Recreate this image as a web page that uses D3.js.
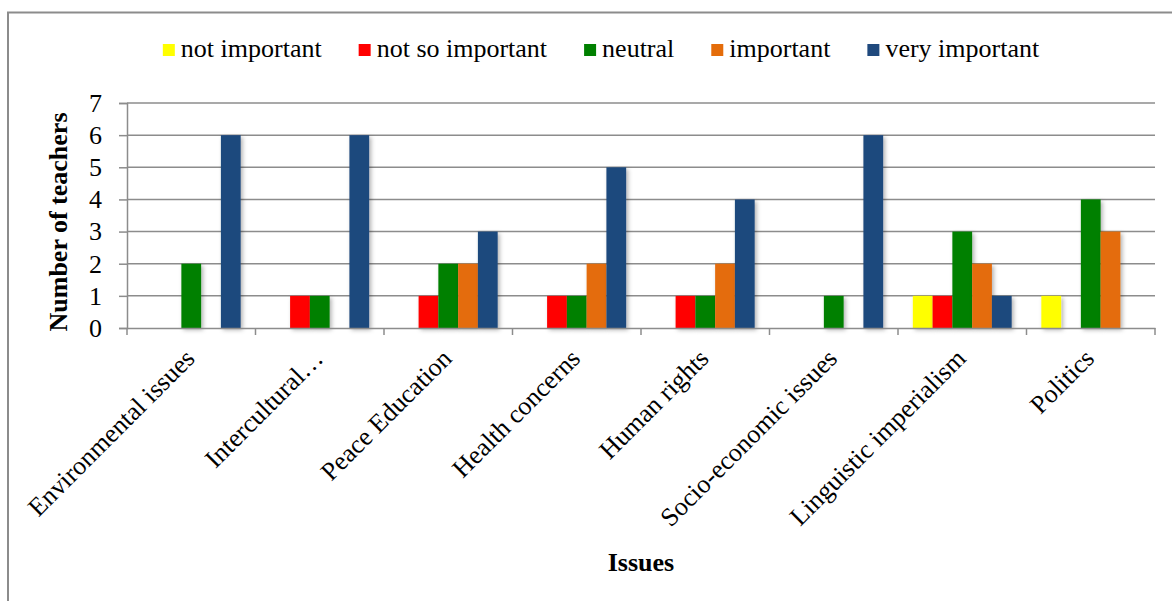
<!DOCTYPE html>
<html>
<head>
<meta charset="utf-8">
<script src="https://cdn.jsdelivr.net/npm/d3@7"></script>
<style>
  body { margin: 0; background: #fff; }
  text { font-family: "Liberation Serif", "Times New Roman", serif; fill: #000; }
</style>
</head>
<body>
<div id="chart"></div>
<script>
const categories = ["Environmental issues", "Intercultural\u2026", "Peace Education", "Health concerns",
                    "Human rights", "Socio-economic issues", "Linguistic imperialism", "Politics"]
const seriesNames = ["not important", "not so important", "neutral", "important", "very important"]
const notImportant   = [0, 0, 0, 0, 0, 0, 1, 1]
const notSoImportant = [0, 1, 1, 1, 1, 0, 1, 0]
const neutral        = [2, 1, 2, 1, 1, 1, 3, 4]
const important      = [0, 0, 2, 2, 2, 0, 2, 3]
const veryImportant  = [6, 6, 3, 5, 4, 6, 1, 0]
const yTicks = [0, 1, 2, 3, 4, 5, 6, 7]

const seriesValues = [notImportant, notSoImportant, neutral, important, veryImportant]
const colors = ["#FFFF00", "#FF0000", "#008000", "#E46C0A", "#1F497D"]

const width = 1172, height = 601
const plotLeft = 127, plotRight = 1155, plotTop = 103, plotBottom = 328

const svg = d3.select("#chart").append("svg")
              .attr("width", width)
              .attr("height", height)

// shadow like the office chart
const defs = svg.append("defs")
defs.append("filter").attr("id", "shadow")
    .attr("x", "-20%").attr("y", "-20%").attr("width", "160%").attr("height", "140%")
    .append("feDropShadow")
    .attr("dx", 2).attr("dy", 2).attr("stdDeviation", 2)
    .attr("flood-color", "#000").attr("flood-opacity", 0.3)

// outer frame
svg.append("path")
   .attr("d", `M8,${height + 5} L8,12.5 L${width + 5},12.5`)
   .attr("fill", "none")
   .attr("stroke", "#8c8c8c")
   .attr("stroke-width", 2)

const x = d3.scaleBand().domain(categories).range([plotLeft, plotRight]).padding(0)
const xs = d3.scaleBand().domain(seriesNames).range([0, x.bandwidth()]).paddingInner(0).paddingOuter(0.75)
const y = d3.scaleLinear().domain([0, 7]).range([plotBottom, plotTop])

// gridlines
svg.append("g")
   .selectAll("line")
   .data(yTicks.filter(d => d > 0))
   .enter()
   .append("line")
   .attr("x1", plotLeft).attr("x2", plotRight)
   .attr("y1", d => y(d)).attr("y2", d => y(d))
   .attr("stroke", "#8c8c8c")
   .attr("stroke-width", 1.5)

// y axis
const yAxis = svg.append("g")
   .attr("transform", `translate(${plotLeft},0)`)
   .call(d3.axisLeft(y).tickValues(yTicks).tickSize(8).tickPadding(17).tickFormat(d3.format("d")))
yAxis.select(".domain").attr("stroke", "#8c8c8c").attr("stroke-width", 1.5)
yAxis.selectAll(".tick line").attr("stroke", "#8c8c8c").attr("stroke-width", 1.5)
yAxis.selectAll(".tick text")
     .attr("font-size", 26)
     .attr("font-family", "Liberation Serif")
     .attr("fill", "#000")

// bars
const groups = svg.append("g")
   .selectAll("g")
   .data(categories)
   .enter()
   .append("g")
   .attr("transform", d => `translate(${x(d)},0)`)

groups.selectAll("rect")
   .data((d, i) => seriesNames.map((s, k) => ({ s: s, v: seriesValues[k][i], c: colors[k] })).filter(e => e.v > 0))
   .enter()
   .append("rect")
   .attr("x", d => xs(d.s))
   .attr("y", d => y(d.v))
   .attr("width", xs.bandwidth())
   .attr("height", d => plotBottom - y(d.v))
   .attr("fill", d => d.c)
   .attr("filter", "url(#shadow)")

// x axis
const xAxis = svg.append("g")
   .attr("transform", `translate(0,${plotBottom})`)
   .call(d3.axisBottom(x).tickValues([]).tickSizeOuter(0))
xAxis.select(".domain").attr("stroke", "#8c8c8c").attr("stroke-width", 1.5)
xAxis.selectAll("line.cat")
   .data(d3.range(categories.length + 1))
   .enter()
   .append("line")
   .attr("class", "cat")
   .attr("x1", i => plotLeft + i * x.step()).attr("x2", i => plotLeft + i * x.step())
   .attr("y1", 0).attr("y2", 7)
   .attr("stroke", "#8c8c8c")
   .attr("stroke-width", 1.5)

svg.append("g")
   .selectAll("text")
   .data(categories)
   .enter()
   .append("text")
   .attr("transform", d => `translate(${x(d) + x.bandwidth() / 2 + 5},${plotBottom + 32}) rotate(-45)`)
   .attr("text-anchor", "end")
   .attr("font-size", 26)
   .text(d => d)

// axis titles
svg.append("text")
   .attr("transform", `translate(67,222) rotate(-90)`)
   .attr("text-anchor", "middle")
   .attr("font-size", 26)
   .attr("font-weight", "bold")
   .text("Number of teachers")

svg.append("text")
   .attr("x", 641).attr("y", 571)
   .attr("text-anchor", "middle")
   .attr("font-size", 26)
   .attr("font-weight", "bold")
   .text("Issues")

// legend
const legend = svg.append("g").attr("transform", "translate(0,57)")
const items = legend.selectAll("g")
   .data(seriesNames)
   .enter()
   .append("g")
items.append("rect")
   .attr("y", -13).attr("width", 12).attr("height", 12)
   .attr("fill", (d, i) => colors[i])
items.append("text")
   .attr("x", 18)
   .attr("font-size", 26)
   .text(d => d)

let pos = 0
const widths = []
items.each(function () {
   widths.push(18 + d3.select(this).select("text").node().getComputedTextLength())
})
const total = d3.sum(widths) + 37 * (widths.length - 1)
pos = 601 - total / 2
items.attr("transform", (d, i) => {
   const t = `translate(${pos},0)`
   pos += widths[i] + 37
   return t
})
</script>
</body>
</html>
